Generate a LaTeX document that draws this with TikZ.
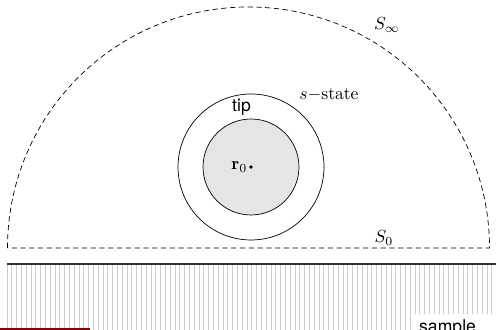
\documentclass[tikz,border=0pt]{standalone}
\usepackage{fontspec}
\setsansfont{TeX Gyre Heros}
\usetikzlibrary{positioning}

\begin{document}
\begin{tikzpicture}[x=0.02cm, y=0.02cm, font=\normalsize]
  % Styles
  \tikzset{
    surface/.style={draw=black, thin, dash pattern=on 3pt off 2pt},
    ring/.style={circle, draw=black, thin, inner sep=0pt},
    hatch/.style={draw=black!20, line width=0.5pt},
    wall/.style={draw=black!80, line width=0.9pt},
    label/.style={inner sep=1pt},
    samplebox/.style={fill=white, inner sep=3.33pt, text width=1.42cm, align=left, font=\sffamily}
  }
  \useasboundingbox (0,0) rectangle (496,330);

  % Sample (hatched)
  \foreach \i in {0,...,101} {
    \draw[hatch] (7+4.8*\i,0) -- (7+4.8*\i,65);
  }
  \draw[wall] (7,66) -- (496,66);
  \node[samplebox, anchor=base west] (sample) at (413,-3) {sample};
  \draw[draw=red!55!black, line width=1.2pt] (0,0.6) -- (90,0.6);

  % Integration surface
  \draw[surface] (7.5,82) arc (180:0:241) -- cycle;
  \node[label] (sinf) at (387,305) {$S_\infty$};
  \node[label] (szero) at (384,92) {$S_0$};

  % Tip
  \coordinate (r0) at (251,163);
  \node[ring, minimum size=2.92cm] (state) at (r0) {};
  \node[ring, fill=black!10, minimum size=1.92cm] (tip) at (r0) {};
  \fill (r0) circle (1.1pt);
  \node[label, left=1pt of r0] (rlabel) {$\mathbf{r}_0$};
  \node[label, font=\sffamily] (tiplabel) at (241.5,223) {tip};
  \node[label] (slabel) at (329,235) {$s-$state};
\end{tikzpicture}
\end{document}
